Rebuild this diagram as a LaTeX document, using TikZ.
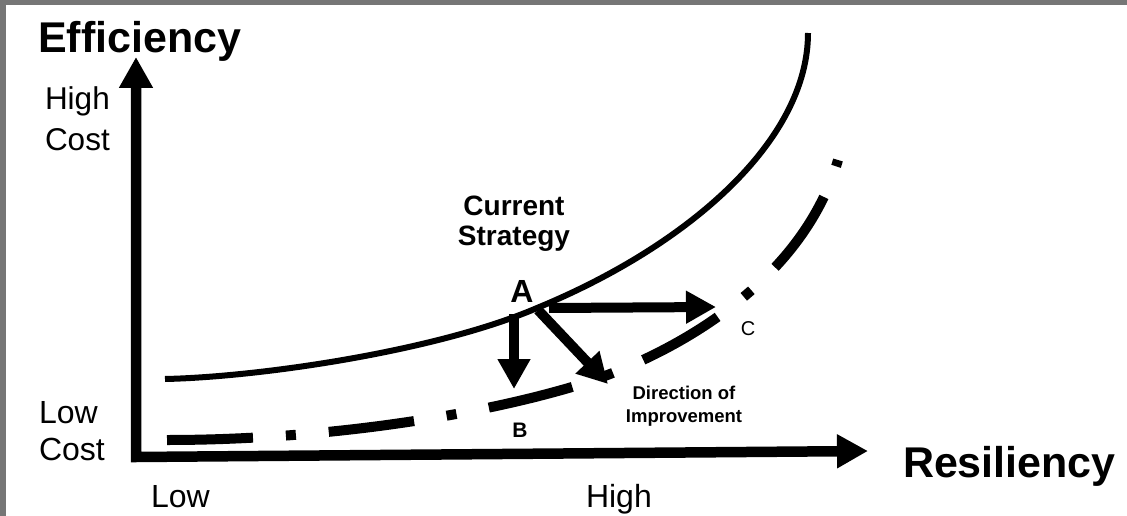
\documentclass[tikz,border=0pt]{standalone}
\usepackage{fontspec}
\setmainfont{Liberation Sans}
\usetikzlibrary{arrows.meta}
\definecolor{framegray}{HTML}{767676}
\begin{document}
\begin{tikzpicture}[x=1pt,y=-1pt,
  axis/.style={line width=10.5pt,line join=miter,
    {Triangle[length=31pt,width=32pt]}-{Triangle[length=31pt,width=32pt]}},
  move/.style={line width=10pt,-{Triangle[length=30pt,width=31pt]}},
  frontier/.style={line width=6pt},
  improved/.style={line width=10pt,dash pattern=on 86pt off 33pt on 10pt off 33pt},
  lbl/.style={inner sep=0pt,outer sep=0pt},
  big/.style={lbl,font=\fontsize{43}{46}\selectfont\bfseries},
  side/.style={lbl,align=left,anchor=base west}
]
\useasboundingbox (0,0) rectangle (1127,516);
\fill[white] (0,0) rectangle (1127,516);
% grey frame along the top and the left edge
\fill[framegray] (0,0) rectangle (1127,5);
\fill[framegray] (0,0) rectangle (6,516);

% axes
\coordinate (ytip) at (136,57);
\coordinate (origin) at (136,457);
\coordinate (xtip) at (868,451);
\draw[axis] (ytip) -- (origin) -- (xtip);

% current efficiency/resiliency frontier
\draw[frontier] (165,379) .. controls (260,377) and (437,351) .. (537,308)
  .. controls (690,245) and (808,140) .. (808,33);

% improved frontier
\draw[improved] (167,440) .. controls (320,440) and (470,417) .. (572,387)
  .. controls (660,361) and (800,290) .. (838,160);

% moves away from the current strategy
\coordinate (aDown) at (514,314);
\coordinate (bEnd) at (514,389);
\coordinate (aDiag) at (538,310);
\coordinate (dEnd) at (608,384);
\coordinate (aRight) at (549,308);
\coordinate (cEnd) at (716,307);
\draw[move] (aDown) -- (bEnd);
\draw[move] (aDiag) -- (dEnd);
\draw[move] (aRight) -- (cEnd);

% labels (multi-line nodes are placed by the baseline of their last line)
\node[big,anchor=base west] (eff) at (38,53) {Efficiency};
\node[big,anchor=base west] (res) at (903,477) {Resiliency};
\node[side,font=\fontsize{31.5}{40}\selectfont] (hicost) at (45,150) {High\\Cost};
\node[side,font=\fontsize{32}{37}\selectfont] (locost) at (39,460) {Low\\Cost};
\node[lbl,anchor=base west,font=\fontsize{32}{37}\selectfont] (xlow) at (151,507) {Low};
\node[lbl,anchor=base west,font=\fontsize{32}{37}\selectfont] (xhigh) at (586,507) {High};
\node[lbl,align=center,anchor=base,font=\fontsize{28}{30}\selectfont\bfseries] (cur) at (514,245) {Current\\Strategy};
\node[lbl,anchor=base,font=\fontsize{32}{36}\selectfont\bfseries] (la) at (522,302) {A};
\node[lbl,anchor=base,font=\fontsize{21}{24}\selectfont\bfseries] (lb) at (520,437) {B};
\node[lbl,anchor=base,font=\fontsize{20}{24}\selectfont] (lc) at (748,335) {C};
\node[lbl,align=center,anchor=base,font=\fontsize{18.5}{23}\selectfont\bfseries] (dir) at (684,422) {Direction of\\Improvement};
\end{tikzpicture}
\end{document}
